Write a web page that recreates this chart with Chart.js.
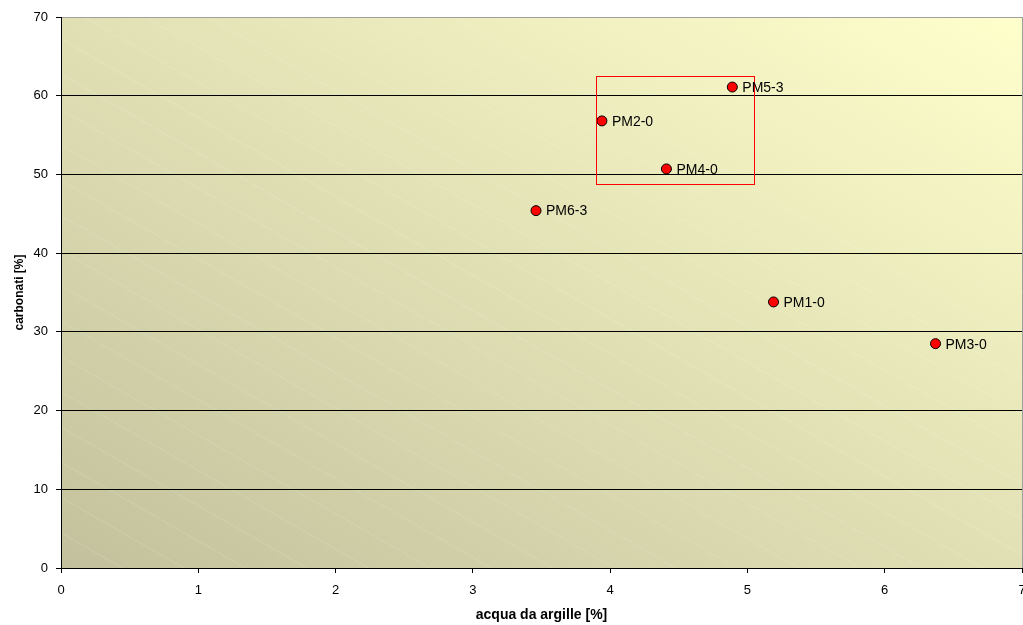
<!DOCTYPE html>
<html lang="it">
<head>
  <meta charset="UTF-8">
  <title>carbonati vs acqua da argille</title>
  <script src="https://cdn.jsdelivr.net/npm/chart.js"></script>
  <style>
    body { margin: 0; background: #fff; overflow: hidden; }
    canvas { display: block; }
  </style>
</head>
<body>
  <canvas id="chart" width="1023" height="625"></canvas>
  <script>
    // campioni
    const sampleNames = ["PM5-3", "PM2-0", "PM4-0", "PM6-3", "PM1-0", "PM3-0"];
    const acquaArgille = [4.89, 3.94, 4.41, 3.46, 5.19, 6.37];
    const carbonati = [61.1, 56.8, 50.7, 45.4, 33.8, 28.5];

    // riquadro rosso (in unita' dei dati)
    const boxX = [3.9, 5.05];
    const boxY = [48.8, 62.5];

    const xTicks = [0, 1, 2, 3, 4, 5, 6, 7];
    const yTicks = [0, 10, 20, 30, 40, 50, 60, 70];

    const font = "Liberation Sans, Arial, sans-serif";
    const noPadding = () => ({ left: 0, top: 0, right: 0, bottom: 0 });

    const bgPlugin = {
      id: "bg",
      beforeDraw(chart) {
        const { ctx, chartArea: a } = chart;
        const w = a.right - a.left, h = a.bottom - a.top;
        ctx.save();
        ctx.translate(a.left, a.top);
        ctx.scale(w, h);
        const g = ctx.createLinearGradient(0, 1, 1, 0);
        g.addColorStop(0, "#c3c19d");
        g.addColorStop(1, "#ffffcc");
        ctx.fillStyle = g;
        ctx.fillRect(0, 0, 1, 1);
        ctx.restore();
        // faint banding lines
        ctx.save();
        ctx.beginPath();
        ctx.rect(a.left, a.top, w, h);
        ctx.clip();
        ctx.strokeStyle = "rgba(255,255,255,0.14)";
        ctx.lineWidth = 1;
        for (let c = -1; c <= 1; c += 0.064) {
          ctx.beginPath();
          ctx.moveTo(a.left + c * w, a.top);
          ctx.lineTo(a.left + (c + 1) * w, a.bottom);
          ctx.stroke();
        }
        ctx.restore();
      }
    };

    const overlayPlugin = {
      id: "overlay",
      afterDatasetsDraw(chart) {
        const { ctx, scales } = chart;
        const x0 = scales.x.getPixelForValue(boxX[0]);
        const x1 = scales.x.getPixelForValue(boxX[1]);
        const y0 = scales.y.getPixelForValue(boxY[1]);
        const y1 = scales.y.getPixelForValue(boxY[0]);
        ctx.save();
        ctx.strokeStyle = "#ff0000";
        ctx.lineWidth = 1;
        ctx.strokeRect(Math.round(x0) + 0.5, Math.round(y0) + 0.5, Math.round(x1 - x0), Math.round(y1 - y0));

        const meta = chart.getDatasetMeta(0);
        ctx.fillStyle = "#000";
        ctx.font = "14px " + font;
        ctx.textAlign = "left";
        ctx.textBaseline = "middle";
        meta.data.forEach((pt, i) => {
          ctx.fillText(sampleNames[i], pt.x + 10, pt.y + 1);
        });
        ctx.restore();
      }
    };

    new Chart(document.getElementById("chart"), {
      type: "scatter",
      data: {
        datasets: [{
          data: acquaArgille.map((x, i) => ({ x: x, y: carbonati[i] })),
          pointRadius: 5,
          pointHoverRadius: 5,
          pointBackgroundColor: "#ff0000",
          pointBorderColor: "#000",
          pointBorderWidth: 1
        }]
      },
      options: {
        responsive: false,
        animation: false,
        events: [],
        layout: { autoPadding: false, padding: { left: 0, right: 1, top: 17, bottom: 0 } },
        plugins: {
          legend: { display: false },
          tooltip: { enabled: false }
        },
        scales: {
          x: {
            type: "linear",
            min: 0,
            max: 7,
            afterBuildTicks(scale) { scale.ticks = xTicks.map(v => ({ value: v })); },
            afterFit(scale) {
              scale.height = 57;
              scale.paddingLeft = 0;
              scale.paddingRight = 0;
              scale.getPadding = noPadding;
            },
            border: { color: "#000", width: 1 },
            grid: {
              drawOnChartArea: true,
              color: c => c.tick && c.tick.value === 7 ? "#a0a0a0" : "rgba(0,0,0,0)",
              tickColor: "#000",
              tickLength: 5
            },
            ticks: { color: "#000", font: { family: font, size: 13 }, padding: 10, maxRotation: 0 },
            title: {
              display: true,
              text: "acqua da argille [%]",
              color: "#000",
              font: { family: font, size: 14, weight: "bold" },
              padding: { top: 2, bottom: 1.5 }
            }
          },
          y: {
            type: "linear",
            min: 0,
            max: 70,
            afterBuildTicks(scale) { scale.ticks = yTicks.map(v => ({ value: v })); },
            afterFit(scale) {
              scale.width = 61;
              scale.paddingTop = 0;
              scale.paddingBottom = 0;
              scale.getPadding = noPadding;
            },
            border: { color: "#000", width: 1 },
            grid: {
              color: c => c.tick && c.tick.value === 70 ? "#a0a0a0" : "#000",
              tickColor: "#000",
              tickLength: 5
            },
            ticks: { color: "#000", font: { family: font, size: 13 }, padding: 8 },
            title: {
              display: true,
              text: "carbonati [%]",
              color: "#000",
              font: { family: font, size: 12, weight: "bold" },
              padding: { top: 12, bottom: 4 }
            }
          }
        }
      },
      plugins: [bgPlugin, overlayPlugin]
    });
  </script>
</body>
</html>
